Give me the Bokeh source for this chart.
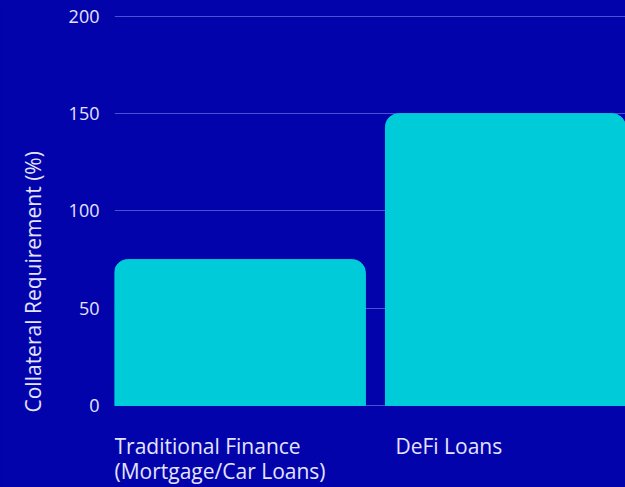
from bokeh.plotting import figure
from bokeh.models import Range1d, FixedTicker, Title
from bokeh.core.properties import value
from bokeh.embed import file_html
from bokeh.resources import INLINE

categories = ["Traditional Finance\n(Mortgage/Car Loans)", "DeFi Loans"]
collateral = [75, 150]
y_ticks = [0, 50, 100, 150, 200]
y_title = "Collateral Requirement (%)"

positions = list(range(len(categories)))
BAR_W = 0.926

BG = "#0303ab"
BAR = "#00cbd9"
TXT = "#e4e4ff"
FONT = "Open Sans"

p = figure(width=625, height=487, output_backend="svg", toolbar_location=None,
           x_range=Range1d(-BAR_W / 2, -BAR_W / 2 + 1.886), y_range=Range1d(-42.16, 200.5),
           min_border_left=114, min_border_right=0, min_border_top=15, min_border_bottom=0)
p.background_fill_color = BG
p.border_fill_color = BG
p.outline_line_color = None
p.styles = {"background-color": BG}

p.vbar(x=positions, top=collateral, width=BAR_W, bottom=0, color=BAR,
       border_radius=(13, 13, 0, 0))

p.xaxis.visible = False
p.xgrid.grid_line_color = None
p.ygrid.ticker = FixedTicker(ticks=y_ticks)
p.ygrid.grid_line_color = "#4f4fd6"
p.ygrid.grid_line_width = 1

ax = p.yaxis[0]
ax.ticker = FixedTicker(ticks=y_ticks)
ax.axis_line_color = None
ax.major_tick_line_color = None
ax.minor_tick_line_color = None
ax.major_tick_out = 0
ax.major_tick_in = 0
ax.minor_tick_out = 0
ax.major_label_text_color = TXT
ax.major_label_text_font = FONT
ax.major_label_text_font_size = "18px"
ax.major_label_standoff = 15

p.add_layout(Title(text=y_title, align="left", offset=75, standoff=34,
                   vertical_align="top",
                   text_color=TXT, text_font=FONT, text_font_size="21px",
                   text_font_style="normal"), "left")

offsets = [0, 10]
for pos, cat, off in zip(positions, categories, offsets):
    lines = cat.split("\n")
    for i, line in enumerate(lines):
        p.text(x=[pos - BAR_W / 2], y=[0], text=[line], x_offset=off, y_offset=27 + 25 * i,
               text_baseline="top", text_align="left", text_color=TXT,
               text_font=value(FONT), text_font_size="21px")

open("out.html", "w").write(file_html(p, INLINE))
